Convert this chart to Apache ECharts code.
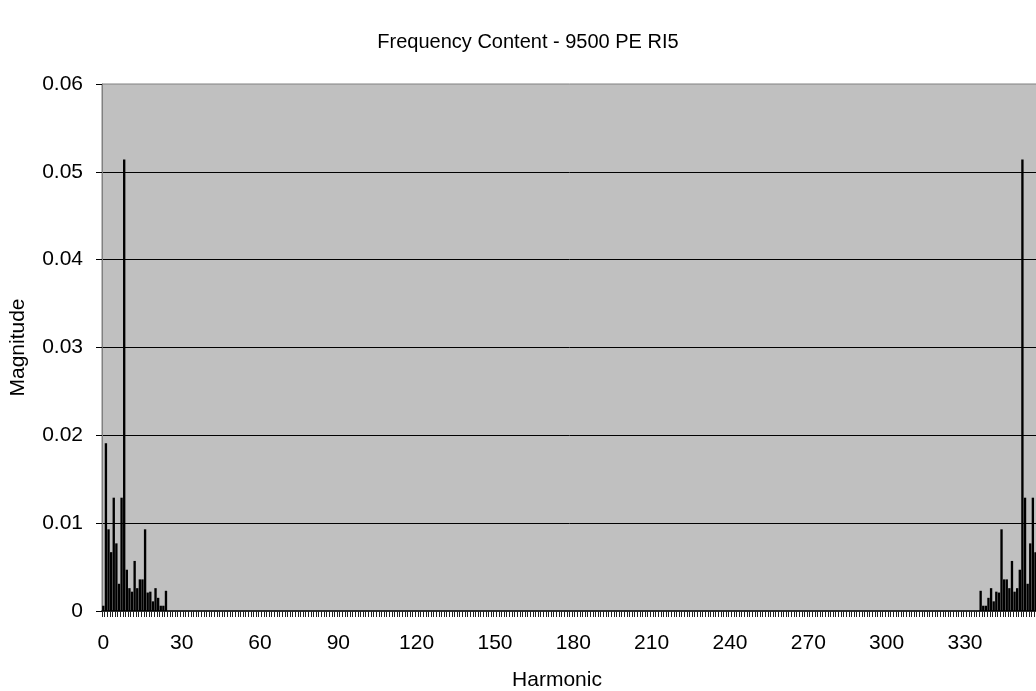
<!DOCTYPE html>
<html>
<head>
<meta charset="utf-8">
<script src="https://cdn.jsdelivr.net/npm/echarts@6/dist/echarts.min.js"></script>
<style>
  html, body { margin: 0; padding: 0; background: #ffffff; }
  #chart { width: 1036px; height: 691px; }
</style>
</head>
<body>
<div id="chart"></div>
<script>
// Harmonic index range of the spectrum (0 .. 359)
const harmonicCount = 360;
const harmonics = Array.from({ length: harmonicCount }, (_, i) => String(i));

// Low-order harmonics 0..24
const lowStart = 0;
const lowMagnitudes = [
  0.0006, 0.0191, 0.0093, 0.0067, 0.0129, 0.0077, 0.0031, 0.0129, 0.0514, 0.0047,
  0.0026, 0.0022, 0.0057, 0.0026, 0.0036, 0.0036, 0.0093, 0.0021, 0.0022, 0.0011,
  0.0026, 0.0015, 0.0006, 0.0006, 0.0023
];

// High-order harmonics 336..359 (aliased image of the low band)
const highStart = 336;
const highMagnitudes = [
  0.0023, 0.0006, 0.0006, 0.0015, 0.0026, 0.0011, 0.0022, 0.0021, 0.0093, 0.0036,
  0.0036, 0.0026, 0.0057, 0.0022, 0.0026, 0.0047, 0.0514, 0.0129, 0.0031, 0.0077,
  0.0129, 0.0067, 0.0093, 0.0191
];

// Y axis ticks
const yMin = 0, yMax = 0.06, yStep = 0.01;

const barData = [];
lowMagnitudes.forEach((v, i) => barData.push([lowStart + i, v]));
highMagnitudes.forEach((v, i) => barData.push([highStart + i, v]));

const FONT = 'Liberation Sans, Arial, sans-serif';
const FS = 21;

const chart = echarts.init(document.getElementById('chart'), null, { renderer: 'canvas' });
chart.setOption({
  animation: false,
  backgroundColor: '#ffffff',
  title: [
    {
      text: 'Frequency Content - 9500 PE RI5',
      left: 523, top: 27, textAlign: 'center',
      textStyle: { fontFamily: FONT, fontSize: 20, fontWeight: 'normal', color: '#000' }
    },
    {
      text: 'Harmonic',
      left: 552, top: 665, textAlign: 'center',
      textStyle: { fontFamily: FONT, fontSize: FS, fontWeight: 'normal', color: '#000' }
    }
  ],
  grid: {
    left: 102, top: 84, height: 527, width: 940,
    outerBoundsMode: 'none',
    containLabel: false,
    show: true, backgroundColor: '#C0C0C0', borderColor: '#808080', borderWidth: 1
  },
  xAxis: {
    type: 'category',
    data: harmonics,
    boundaryGap: true,
    axisLine: { show: true, lineStyle: { color: '#000', width: 1.5 } },
    axisTick: { show: true, interval: 0, length: 6, lineStyle: { color: '#222', width: 1 } },
    axisLabel: { interval: 29, margin: 22, fontFamily: FONT, fontSize: FS, color: '#000' },
    splitLine: { show: false }
  },
  yAxis: {
    type: 'value',
    min: yMin, max: yMax, interval: yStep,
    name: 'Magnitude',
    nameLocation: 'middle',
    nameGap: 73,
    nameRotate: 90,
    nameTextStyle: { fontFamily: FONT, fontSize: FS, color: '#000' },
    axisLine: { show: true, lineStyle: { color: '#808080', width: 1 } },
    axisTick: { show: true, inside: false, length: 6, lineStyle: { color: '#000' } },
    axisLabel: {
      margin: 19, fontFamily: FONT, fontSize: FS, color: '#000',
      formatter: v => (Math.abs(v) < 1e-12 ? '0' : String(+v.toFixed(2)))
    },
    splitLine: { show: true, showMinLine: false, showMaxLine: false, lineStyle: { color: '#000', width: 1 } }
  },
  series: [{
    type: 'bar',
    data: barData,
    barCategoryGap: '10%',
    itemStyle: { color: '#000' },
    silent: true
  }]
});
</script>
</body>
</html>
